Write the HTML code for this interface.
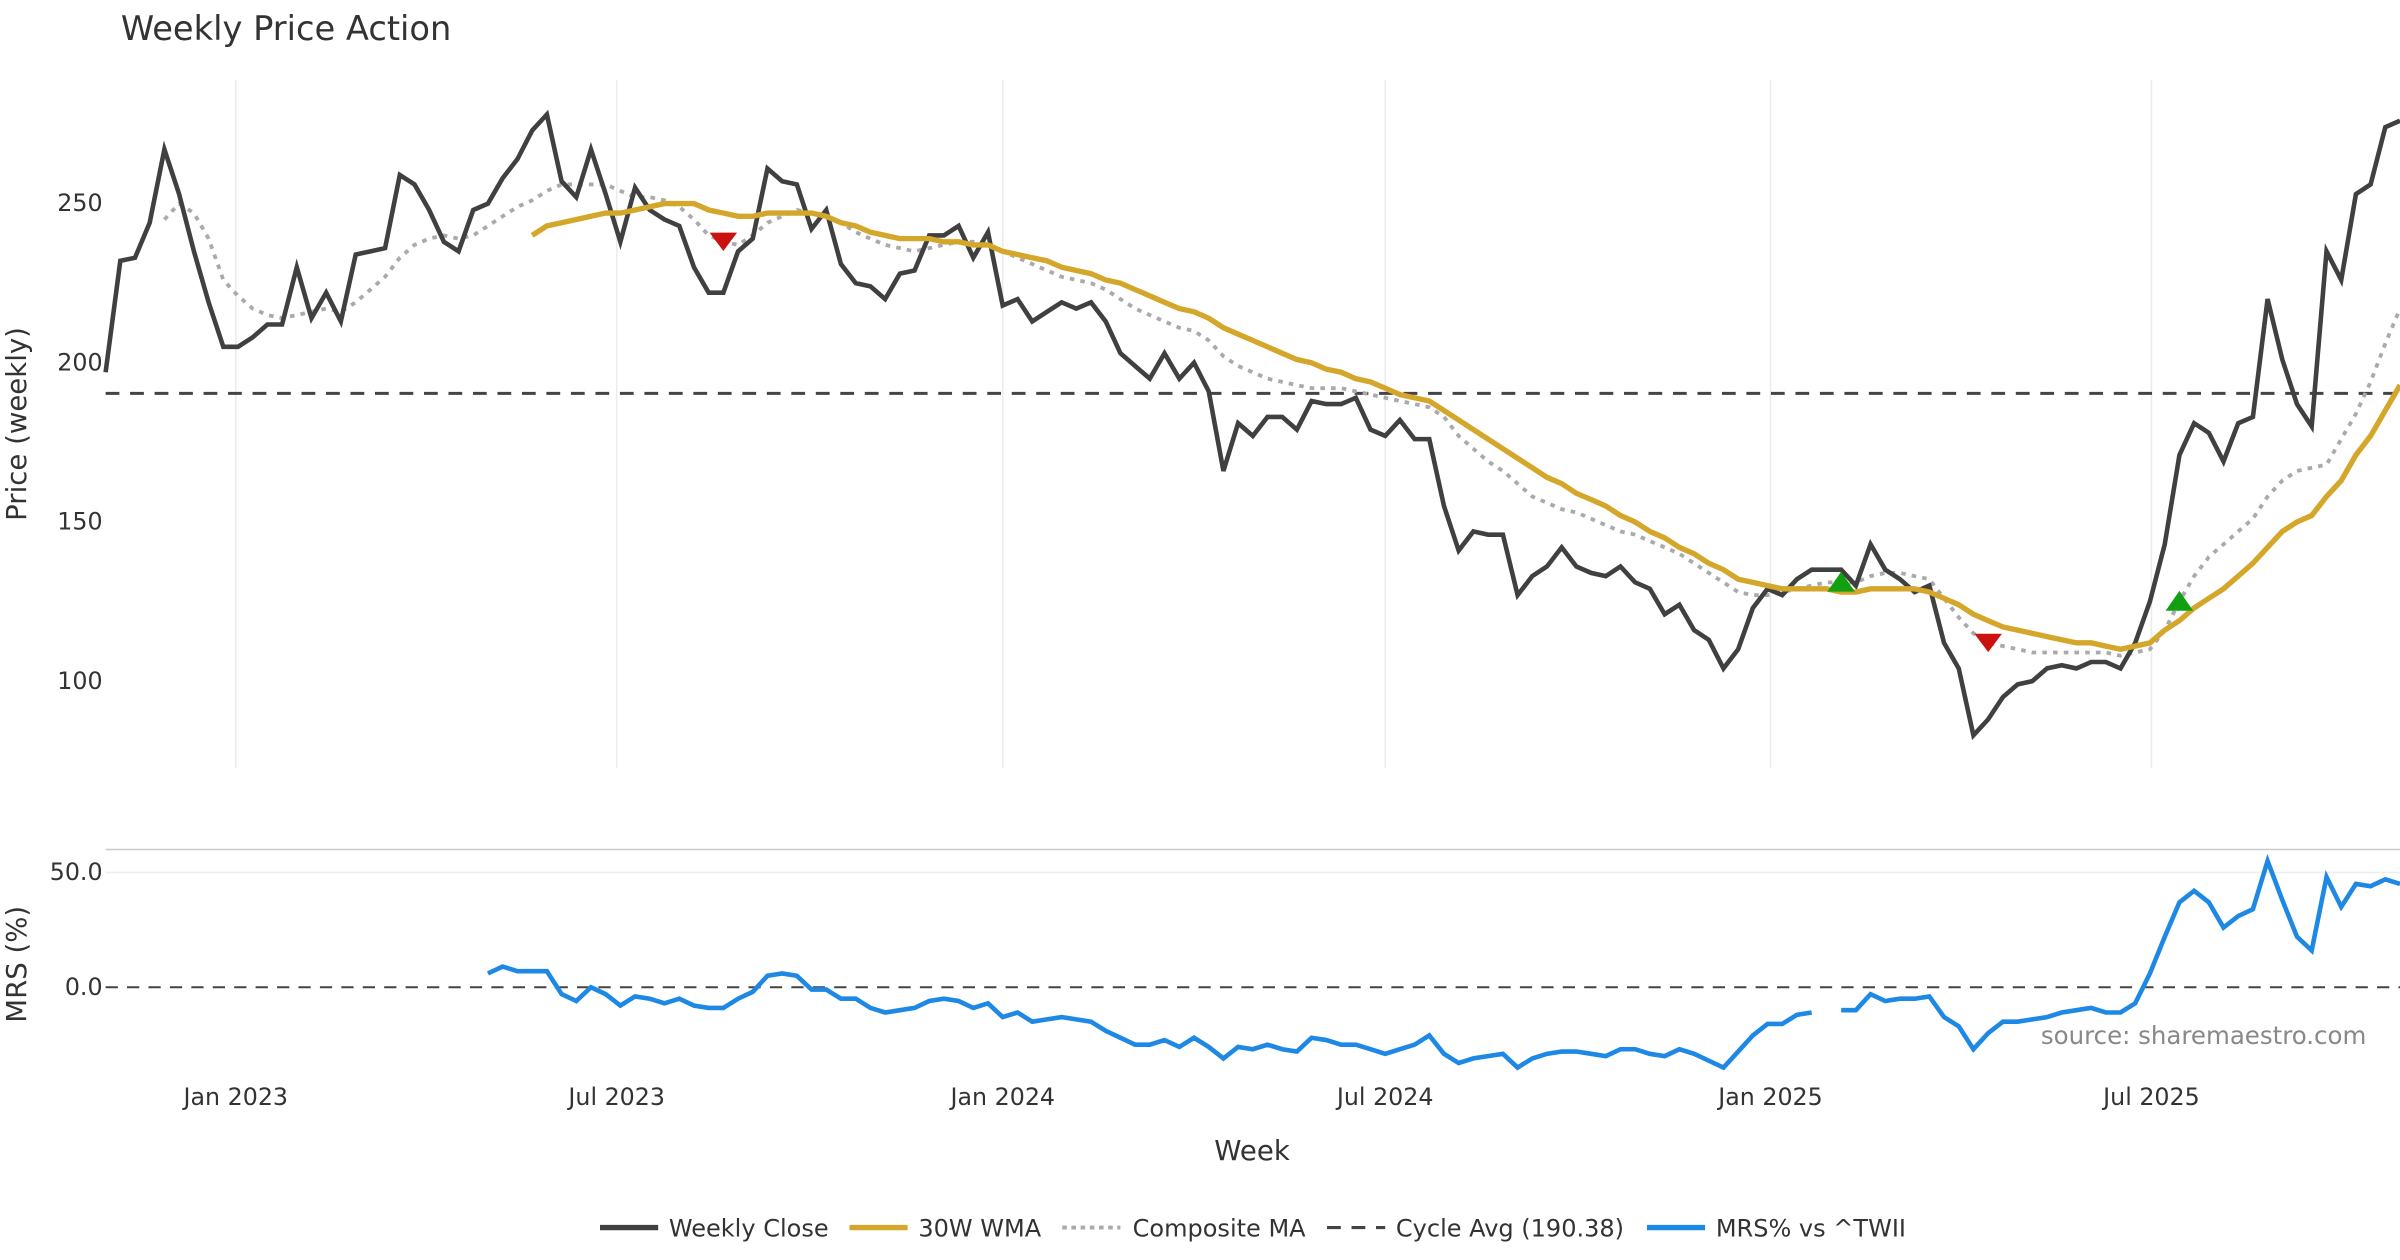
<!DOCTYPE html>
<html><head><meta charset="utf-8"><style>
html,body{margin:0;padding:0;background:#fff;}
svg{display:block;font-family:"DejaVu Sans","Liberation Sans",sans-serif;}
</style></head><body>
<svg id="chart" width="2400" height="1260" viewBox="0 0 1568 823.2" xmlns="http://www.w3.org/2000/svg">
<rect width="1568" height="823.2" fill="#fff"/>
<text x="79" y="26" font-size="22" fill="#333">Weekly Price Action</text>
<g id="grid"></g>
<g id="price"></g>
<g id="mrs"></g>
<g id="axes"></g>
<text transform="translate(17,277) rotate(-90)" text-anchor="middle" font-size="18" fill="#333">Price (weekly)</text>
<text transform="translate(17,630) rotate(-90)" text-anchor="middle" font-size="18" fill="#333">MRS (%)</text>
<text x="818" y="758" text-anchor="middle" font-size="18" fill="#333">Week</text>
<text x="1546" y="682" text-anchor="end" font-size="16" fill="#888">source: sharemaestro.com</text>
<g font-size="15.7" fill="#333">
 <g><line x1="392" y1="802" x2="430" y2="802" stroke="#404040" stroke-width="3.5"/><text x="437" y="808">Weekly Close</text></g>
 <g><line x1="555" y1="802" x2="593" y2="802" stroke="#D4A62A" stroke-width="3.5"/><text x="600" y="808">30W WMA</text></g>
 <g><line x1="694" y1="802" x2="732" y2="802" stroke="#aaa" stroke-width="2.5" stroke-dasharray="3,3"/><text x="740" y="808">Composite MA</text></g>
 <g><line x1="867" y1="802" x2="905" y2="802" stroke="#444" stroke-width="2" stroke-dasharray="9,7"/><text x="912" y="808">Cycle Avg (190.38)</text></g>
 <g><line x1="1076" y1="802" x2="1114" y2="802" stroke="#1E88E5" stroke-width="3.5"/><text x="1121" y="808">MRS% vs ^TWII</text></g>
</g>
</svg>
<script>
const closeVals=[197,232,233,244,267,253,235,219,205,205,208,212,212,230,214,222,213,234,235,236,259,256,248,238,235,248,250,258,264,273,278,257,252,267,253,238,255,248,245,243,230,222,222,235,239,261,257,256,242,248,231,225,224,220,228,229,240,240,243,233,241,218,220,213,216,219,217,219,213,203,199,195,203,195,200,191,166,181,177,183,183,179,188,187,187,189,179,177,182,176,176,155,141,147,146,146,127,133,136,142,136,134,133,136,131,129,121,124,116,113,104,110,123,129,127,132,135,135,135,130,143,135,132,128,130,112,104,83,88,95,99,100,104,105,104,106,106,104,112,125,143,171,181,178,169,181,183,220,201,187,180,235,226,253,256,274,276];
const wmaStart=29;
const wmaVals=[240,243,244,245,246,247,247,248,249,250,250,250,248,247,246,246,247,247,247,247,246,244,243,241,240,239,239,239,238,238,237,237,235,234,233,232,230,229,228,226,225,223,221,219,217,216,214,211,209,207,205,203,201,200,198,197,195,194,192,190,189,188,185,182,179,176,173,170,167,164,162,159,157,155,152,150,147,145,142,140,137,135,132,131,130,129,129,129,129,128,128,129,129,129,129,128,126,124,121,119,117,116,115,114,113,112,112,111,110,111,112,116,119,123,126,129,133,137,142,147,150,152,158,163,171,177,185,193];
const compStart=4;
const compVals=[245,250,247,239,226,221,217,215,214,215,216,217,216,219,223,227,233,237,239,240,239,240,243,246,249,251,254,256,256,256,256,254,252,252,251,249,245,240,238,237,240,244,246,248,247,246,244,241,239,237,236,235,236,237,238,238,237,235,233,231,229,227,226,225,223,220,217,215,213,211,210,207,202,199,197,195,194,193,192,192,192,191,190,189,188,187,186,183,177,173,169,166,162,158,156,154,153,151,149,147,146,144,142,140,137,134,131,128,127,127,128,129,130,131,131,131,133,134,134,133,132,126,120,115,112,111,110,109,109,109,109,109,109,108,109,110,116,125,133,139,143,147,151,158,163,166,167,168,176,184,194,206,217];
const mrsStart=26;
const mrsVals=[6,9,7,7,7,-3,-6,0,-3,-8,-4,-5,-7,-5,-8,-9,-9,-5,-2,5,6,5,-1,-1,-5,-5,-9,-11,-10,-9,-6,-5,-6,-9,-7,-13,-11,-15,-14,-13,-14,-15,-19,-22,-25,-25,-23,-26,-22,-26,-31,-26,-27,-25,-27,-28,-22,-23,-25,-25,-27,-29,-27,-25,-21,-29,-33,-31,-30,-29,-35,-31,-29,-28,-28,-29,-30,-27,-27,-29,-30,-27,-29,-32,-35,-28,-21,-16,-16,-12,-11,null,-10,-10,-3,-6,-5,-5,-4,-13,-17,-27,-20,-15,-15,-14,-13,-11,-10,-9,-11,-11,-7,6,22,37,42,37,26,31,34,55,38,22,16,48,35,45,44,47,45];
const sellIdx=[42,128];
const buyIdx=[118,141];
const cycleAvg=190.38;
const priceTicks=[100,150,200,250];
const mrsTicks=[0,50];
const monthLabels=["Jan 2023","Jul 2023","Jan 2024","Jul 2024","Jan 2025","Jul 2025"];
const monthIdx=[8.85,34.75,61.0,87.0,113.2,139.1];

const NS="http://www.w3.org/2000/svg";
const X0=69,X1=1568,N=closeVals.length;
const xs=i=>X0+i*(X1-X0)/(N-1);
const yp=v=>237-(v-200)*2.08;
const ym=v=>645-v*1.5;
function mk(tag,attrs,parent){const e=document.createElementNS(NS,tag);for(const k in attrs)e.setAttribute(k,attrs[k]);parent.appendChild(e);return e;}
const gridG=document.getElementById('grid'),priceG=document.getElementById('price'),mrsG=document.getElementById('mrs'),axesG=document.getElementById('axes');

monthIdx.forEach((m,k)=>{
 const gl=mk('line',{x1:xs(m),x2:xs(m),y1:52,y2:502,stroke:'#ececec','stroke-width':1},gridG);
 
 
 const t=mk('text',{x:xs(m),y:722,'text-anchor':'middle','font-size':15.5,fill:'#333'},axesG);
 t.textContent=monthLabels[k];
 
 
});
priceTicks.forEach(v=>{
 const t=mk('text',{x:67,y:yp(v)+5,'text-anchor':'end','font-size':15.5,fill:'#333'},axesG);
 t.textContent=v;
 
 
});
const panelBorder=mk('line',{x1:69,x2:1568,y1:555,y2:555,stroke:'#ccc','stroke-width':1},gridG);


mrsTicks.forEach(v=>{
 const gl=mk('line',{x1:69,x2:1568,y1:ym(v),y2:ym(v),stroke:v===0?'#444':'#eee','stroke-width':v===0?1.3:1,'stroke-dasharray':v===0?'8,6':'none'},gridG);
 
 
 const t=mk('text',{x:67,y:ym(v)+5,'text-anchor':'end','font-size':15.5,fill:'#333'},axesG);
 t.textContent=v.toFixed(1);
 
 
});
const ca=mk('line',{x1:69,x2:1568,y1:yp(cycleAvg),y2:yp(cycleAvg),stroke:'#444','stroke-width':2,'stroke-dasharray':'9,7'},priceG);


function pathOf(vals,start,yf){let d='',pen=false;vals.forEach((v,k)=>{if(v===null){pen=false;return;}d+=(pen?'L':'M')+xs(start+k).toFixed(1)+','+yf(v).toFixed(1);pen=true;});return d;}
const cp=mk('path',{d:pathOf(compVals,compStart,yp),fill:'none',stroke:'#aaa','stroke-width':2.5,'stroke-dasharray':'3,4'},priceG);


const cl=mk('path',{d:pathOf(closeVals,0,yp),fill:'none',stroke:'#404040','stroke-width':3},priceG);


const wl=mk('path',{d:pathOf(wmaVals,wmaStart,yp),fill:'none',stroke:'#D4A62A','stroke-width':3.5},priceG);


sellIdx.forEach(i=>{
 const v=compVals[i-compStart],x=xs(i),y=yp(v);
 const t=mk('polygon',{points:`${x-9},${y-6} ${x+9},${y-6} ${x},${y+6}`,fill:'#CC1111'},priceG);
 
 
});
buyIdx.forEach(i=>{
 const v=compVals[i-compStart],x=xs(i),y=yp(v);
 const t=mk('polygon',{points:`${x-9},${y+6} ${x+9},${y+6} ${x},${y-7}`,fill:'#11A011'},priceG);
 
 
});
const ml=mk('path',{d:pathOf(mrsVals,mrsStart,ym),fill:'none',stroke:'#1E88E5','stroke-width':3},mrsG);


</script>
</body></html>
